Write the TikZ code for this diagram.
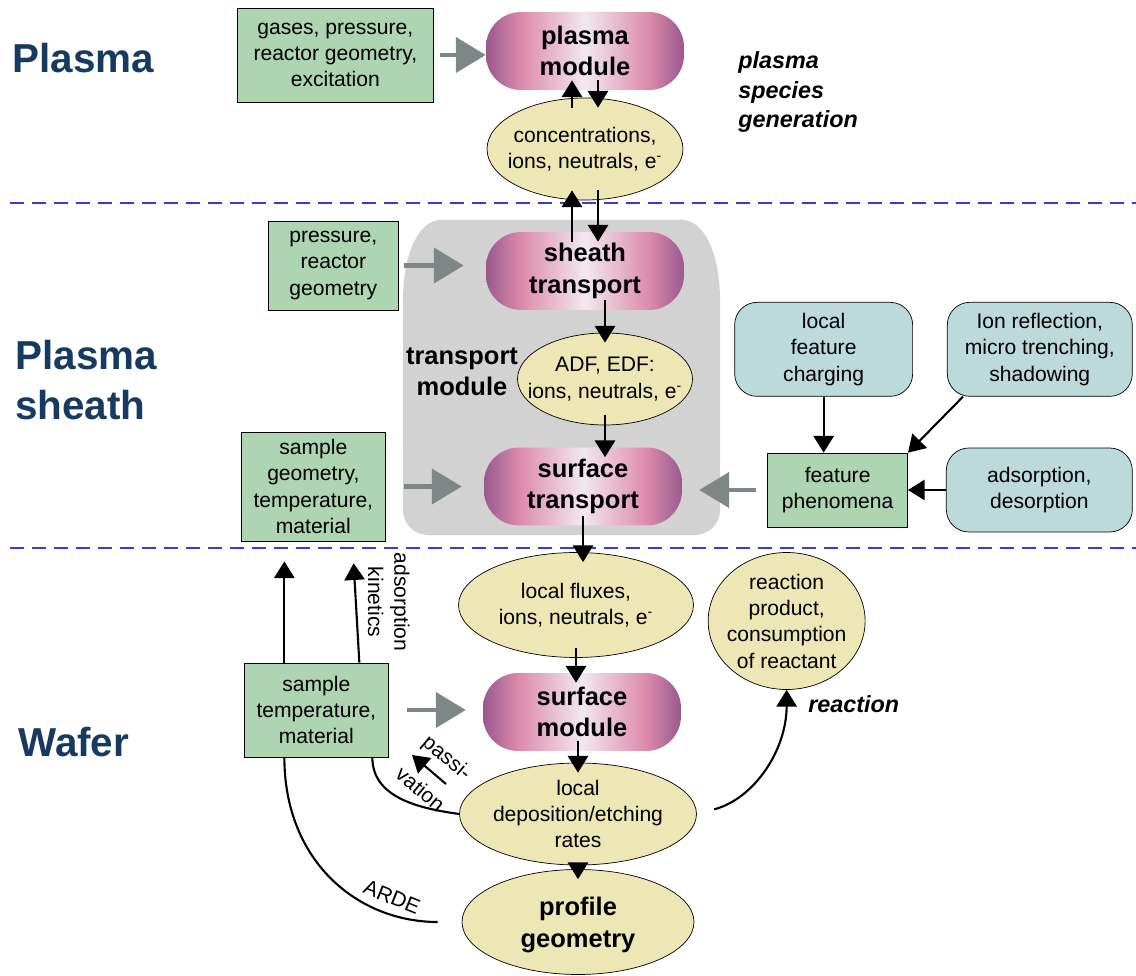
\documentclass[tikz,border=0pt]{standalone}
\usepackage{fontspec}
\setmainfont{Liberation Sans}
\usetikzlibrary{arrows.meta,positioning,shapes.geometric}

\definecolor{paramgreen}{HTML}{ADD5B1}
\definecolor{featureblue}{HTML}{BDDADA}
\definecolor{ovalyellow}{HTML}{EDE7B5}
\definecolor{regiongray}{HTML}{D2D2D2}
\definecolor{feedgray}{HTML}{7F8786}
\definecolor{sepblue}{HTML}{3A3AD6}
\definecolor{zonenavy}{HTML}{163A60}
\definecolor{modedge}{HTML}{98598D}
\definecolor{modpink}{HTML}{DD8BAB}
\definecolor{modlight}{HTML}{F2E8F0}

\pgfdeclarehorizontalshading{moduleshade}{100bp}{color(0bp)=(modedge); color(25bp)=(modedge); color(34bp)=(modpink); color(50bp)=(modlight); color(66bp)=(modpink); color(75bp)=(modedge); color(100bp)=(modedge)}

\newcommand{\nodefont}{\fontsize{12}{15}\selectfont}
\newcommand{\modulefont}{\fontsize{14.5}{18}\selectfont\bfseries}
\newcommand{\zonefont}{\fontsize{23}{28}\selectfont\bfseries}
\newcommand{\annotfont}{\fontsize{13.3}{17}\selectfont\bfseries\itshape}

\begin{document}
\begin{tikzpicture}[
  x=0.02cm, y=0.02cm,
  param/.style={draw, fill=paramgreen, align=center, font=\nodefont, inner sep=2pt},
  feature/.style={draw, fill=featureblue, rounded corners=0.45cm, align=center, font=\nodefont, inner sep=2pt},
  oval/.style={draw, ellipse, fill=ovalyellow, align=center, font=\nodefont, inner xsep=-0.45cm, inner ysep=-0.15cm},
  module/.style={shade, shading=moduleshade, rounded corners=0.7cm, minimum width=3.96cm, minimum height=1.56cm, align=center, font=\modulefont},
  zone/.style={align=left, font=\zonefont, text=zonenavy, anchor=west, inner sep=0pt},
  annot/.style={align=left, font=\annotfont, anchor=west, inner sep=0pt},
  arr/.style={-{Triangle[length=9.5pt,width=11.5pt]}, line width=1.2pt},
  feed/.style={-{Triangle[length=17pt,width=20pt]}, line width=2.3pt, draw=feedgray},
  deep/.style={shorten <=-0.2cm, shorten >=-0.2cm},
  flow/.style={line width=1.2pt},
  divider/.style={draw=sepblue, line width=1.1pt, dash pattern=on 0.28cm off 0.16cm}
]
\useasboundingbox (0,0) rectangle (1136,-976);

% zones
\draw[divider] (10,-203) -- (1136,-203);
\draw[divider] (10,-548) -- (1136,-548);
\node[zone] (zplasma) at (12,-58) {Plasma};
\node[zone] (zsheath) at (15,-380) {Plasma\\sheath};
\node[zone] (zwafer) at (18,-742) {Wafer};

% transport module background
\fill[regiongray] (560,-220) -- (683,-220) .. controls (705,-221) and (720,-255) .. (720,-300)
  [rounded corners=0.5cm] -- (720,-535) -- (403,-535) [sharp corners] -- (403,-300)
  .. controls (403,-255) and (418,-221) .. (440,-220) -- cycle;
\node[font=\modulefont, align=center] (tmod) at (462,-372) {transport\\module};

% main column
\node[module] (plasma) at (585,-51) {plasma\\module};
\node[oval, minimum width=3.92cm, minimum height=2.04cm] (conc) at (585,-149) {concentrations,\\ions, neutrals, e\textsuperscript{-}};
\node[module] (sheath) at (585,-271) {sheath\\transport};
\node[oval, minimum width=3.5cm, minimum height=1.84cm] (adf) at (605,-379) {ADF, EDF:\\ions, neutrals, e\textsuperscript{-}};
\node[module] (surft) at (583,-486.5) {surface\\transport};
\node[oval, minimum width=4.7cm, minimum height=2.1cm] (fluxes) at (576,-605) {local fluxes,\\ions, neutrals, e\textsuperscript{-}};
\node[module] (surfm) at (582,-712) {surface\\module};
\node[oval, minimum width=4.74cm, minimum height=2.04cm] (rates) at (578,-814) {local\\deposition/etching\\rates};
\node[oval, font=\modulefont, minimum width=4.64cm, minimum height=2.1cm, text depth=0pt] (profile) at (578,-922) {profile\\geometry};
\node[oval, minimum width=3.14cm, minimum height=2.74cm, right=0.28cm of fluxes, yshift=-0.32cm] (product) {reaction\\product,\\consumption\\of reactant};

% inputs
\node[param, minimum width=3.92cm, minimum height=1.88cm, left=1.04cm of plasma, yshift=-0.08cm] (gases) {gases, pressure,\\reactor geometry,\\excitation};
\node[param, minimum width=2.6cm, minimum height=1.78cm, left=1.74cm of sheath, yshift=0.11cm] (press) {pressure,\\reactor\\geometry};
\node[param, minimum width=2.88cm, minimum height=2.18cm, left=1.96cm of surft] (sampgeo) {sample\\geometry,\\temperature,\\material};
\node[param, minimum width=2.88cm, minimum height=1.88cm, left=1.88cm of surfm, yshift=0.04cm] (samptemp) {sample\\temperature,\\material};
\node[param, minimum width=2.8cm, minimum height=1.48cm, right=1.7cm of surft, yshift=-0.07cm] (phen) {feature\\phenomena};
\node[feature, minimum width=3.56cm, minimum height=1.88cm, above=1.12cm of phen, xshift=-0.28cm] (charge) {local\\feature\\charging};
\node[feature, minimum width=3.7cm, minimum height=1.88cm, right=0.68cm of charge] (reflect) {Ion reflection,\\micro trenching,\\shadowing};
\node[feature, minimum width=3.72cm, minimum height=1.68cm, right=0.76cm of phen] (adsorb) {adsorption,\\desorption};

\node[annot] (gen) at (738,-92) {plasma\\species\\generation};
\node[annot] (react) at (808,-704) {reaction};

% main flow
\draw[arr, deep] ([xshift=-0.26cm]conc.north) -- ([xshift=-0.26cm]plasma.south);
\draw[arr, deep] ([xshift=0.26cm]plasma.south) -- ([xshift=0.26cm]conc.north);
\draw[arr, deep] ([xshift=-0.26cm]sheath.north) -- ([xshift=-0.26cm]conc.south);
\draw[arr, deep] ([xshift=0.26cm]conc.south) -- ([xshift=0.26cm]sheath.north);
\draw[arr, deep] (sheath.south -| adf.north) -- (adf.north);
\draw[arr, deep] (adf.south) -- (adf.south |- surft.north);
\draw[arr, deep] (surft.south) -- (surft.south |- fluxes.north);
\draw[arr, deep] (fluxes.south) -- (fluxes.south |- surfm.north);
\draw[arr, deep] (surfm.south -| rates.north) -- (rates.north);
\draw[arr, deep] (rates.south) -- (profile.north);

% inputs into modules
\draw[feed, shorten <=0.12cm] (gases) -- (gases -| plasma.west);
\draw[feed, shorten <=0.1cm, shorten >=0.44cm] (press) -- (press -| sheath.west);
\draw[feed, shorten <=0.36cm, shorten >=0.44cm] (sampgeo) -- (sampgeo -| surft.west);
\draw[feed, shorten <=0.36cm, shorten >=0.34cm] (samptemp) -- (samptemp -| surfm.west);
\draw[feed, shorten <=0.22cm, shorten >=0.34cm] (phen) -- (phen -| surft.east);

% feature phenomena
\draw[arr] (charge) -- (charge |- phen.north);
\draw[arr] ([xshift=0.32cm]reflect.south west) -- (phen.north east);
\draw[arr] (adsorb) -- (adsorb -| phen.east);

% wafer feedback
\draw[arr, shorten >=0.4cm] ([xshift=-0.64cm]samptemp.north) -- ([xshift=-0.64cm]samptemp.north |- sampgeo.south);
\draw[arr, shorten >=0.44cm] ([xshift=0.86cm]samptemp.north) -- ([xshift=0.78cm]sampgeo.south)
  node[midway, anchor=south, rotate=-90, font=\nodefont, align=center, inner sep=0.22cm] (adskin) {adsorption\\kinetics};
\draw[flow] (rates.west) to[out=172, in=-90] ([xshift=1.12cm]samptemp.south);
\node[font=\nodefont, align=center, rotate=-40] (passiv) at (434,-773) {passi-\\[9pt]vation};
\coordinate (pvtail) at (446,-784);
\coordinate (pvhead) at (412,-755);
\draw[arr] (pvtail) -- (pvhead);
\draw[flow, shorten <=0.48cm] (profile.west) to[out=180, in=-90, looseness=1.1] ([xshift=-0.64cm]samptemp.south);
\node[font=\nodefont, rotate=-22] (arde) at (392,-897) {ARDE};
\draw[arr, shorten <=0.36cm] (rates.east) to[out=15, in=-90] (product.south);
\end{tikzpicture}
\end{document}
